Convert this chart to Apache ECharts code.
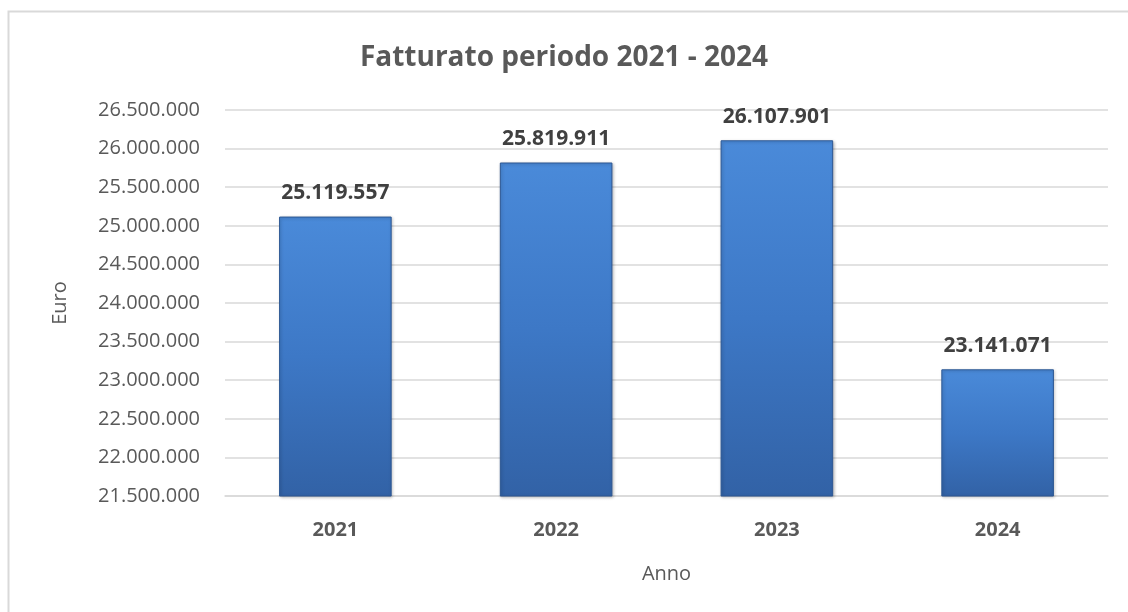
<!DOCTYPE html>
<html>
<head>
<meta charset="utf-8">
<script src="https://cdn.jsdelivr.net/npm/echarts@6/dist/echarts.min.js"></script>
<style>
  html, body { margin: 0; padding: 0; background: #fff; }
  #chart { width: 1128px; height: 612px; }
</style>
</head>
<body>
<div id="chart"></div>
<script>
const anni = ["2021", "2022", "2023", "2024"];
const fatturato = [25119557, 25819911, 26107901, 23141071];

const fmt = (v) => String(Math.round(v)).replace(/\B(?=(\d{3})+(?!\d))/g, ".");

const myChart = echarts.init(document.getElementById("chart"));

const option = {
  backgroundColor: "#fff",
  textStyle: { fontFamily: "Open Sans" },
  graphic: [
    {
      type: "rect",
      shape: { x: 8.5, y: 11.5, width: 1140, height: 640 },
      style: { fill: "none", stroke: "#d9d9d9", lineWidth: 2 },
      silent: true,
    },
  ],
  title: {
    text: "Fatturato periodo 2021 - 2024",
    left: "center",
    top: 39,
    textStyle: {
      color: "#595959",
      fontSize: 28,
      fontWeight: "bold",
      fontFamily: "Open Sans",
    },
  },
  grid: {
    left: 225,
    right: 20,
    top: 110,
    bottom: 116,
  },
  xAxis: {
    type: "category",
    data: anni,
    name: "Anno",
    nameLocation: "middle",
    nameGap: 68,
    nameTextStyle: { color: "#595959", fontSize: 20 },
    axisLine: { lineStyle: { color: "#d9d9d9", width: 1.5 } },
    axisTick: { show: false },
    axisLabel: {
      color: "#595959",
      fontSize: 20,
      fontWeight: "bold",
      margin: 24,
    },
  },
  yAxis: {
    type: "value",
    min: 21500000,
    max: 26500000,
    interval: 500000,
    name: "Euro",
    nameLocation: "middle",
    nameGap: 155,
    nameRotate: 90,
    nameTextStyle: { color: "#595959", fontSize: 20 },
    axisLine: { show: false },
    axisTick: { show: false },
    splitLine: { lineStyle: { color: "#d9d9d9", width: 1.5 } },
    axisLabel: {
      color: "#595959",
      fontSize: 20,
      margin: 25,
      formatter: fmt,
    },
  },
  series: [
    {
      type: "bar",
      data: fatturato,
      barWidth: "51%",
      itemStyle: {
        color: new echarts.graphic.LinearGradient(0, 0, 0, 1, [
          { offset: 0, color: "#4a8ad9" },
          { offset: 0.5, color: "#3d78c6" },
          { offset: 1, color: "#3262a6" },
        ]),
        borderColor: "#2c5793",
        borderWidth: 1,
        shadowColor: "rgba(0,0,0,0.25)",
        shadowBlur: 3,
        shadowOffsetX: 1,
        shadowOffsetY: 1,
      },
      label: {
        show: true,
        position: "top",
        distance: 13,
        color: "#404040",
        fontSize: 21,
        fontWeight: "bold",
        formatter: (p) => fmt(p.value),
      },
    },
  ],
};

myChart.setOption(option);
</script>
</body>
</html>
